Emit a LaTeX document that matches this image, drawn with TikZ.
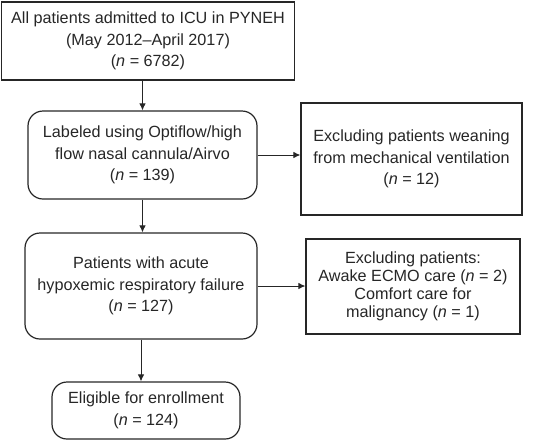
\documentclass[tikz,border=0pt]{standalone}
\usepackage{fontspec}
\setmainfont{Liberation Sans}
\usetikzlibrary{arrows.meta}
\begin{document}
\begin{tikzpicture}[x=1pt,y=-1pt,
  box/.style={draw=black!85,line width=1.2pt,align=center,inner sep=0pt,
    font=\fontsize{16.2}{21.5}\selectfont,text=black!85},
  rbox/.style={box,rounded corners=15pt},
  arr/.style={draw=black!85,line width=0.9pt,-{Latex[length=7pt,width=6.5pt]}}]
\useasboundingbox (0,0) rectangle (540,440);
\node[box,minimum width=293pt,minimum height=78pt] (b1) at (148,41)
  {All patients admitted to ICU in PYNEH\\(May 2012--April 2017)\\(\textit{n} = 6782)};
\node[rbox,minimum width=229pt,minimum height=88pt] (b2) at (142.5,155)
  {Labeled using Optiflow/high\\flow nasal cannula/Airvo\\(\textit{n} = 139)};
\node[box,minimum width=221pt,minimum height=112pt] (b3) at (411.5,159)
  {Excluding patients weaning\\from mechanical ventilation\\(\textit{n} = 12)};
\node[rbox,minimum width=232pt,minimum height=106pt] (b4) at (141,286)
  {Patients with acute\\hypoxemic respiratory failure\\(\textit{n} = 127)};
\node[box,minimum width=214pt,minimum height=95pt,
  font=\fontsize{16.2}{18}\selectfont] (b5) at (413,286.5)
  {Excluding patients:\\Awake ECMO care (\textit{n} = 2)\\Comfort care for\\malignancy (\textit{n} = 1)};
\node[rbox,minimum width=188pt,minimum height=57pt] (b6) at (146,410.5)
  {Eligible for enrollment\\(\textit{n} = 124)};
\draw[arr] (b2.north |- b1.south) -- (b2.north);
\draw[arr] (b2.east) -- (b2.east -| b3.west);
\draw[arr] (b2.south) -- (b2.south |- b4.north);
\draw[arr] (b4.east) -- (b4.east -| b5.west);
\draw[arr] (b4.south) -- (b4.south |- b6.north);
\end{tikzpicture}
\end{document}
